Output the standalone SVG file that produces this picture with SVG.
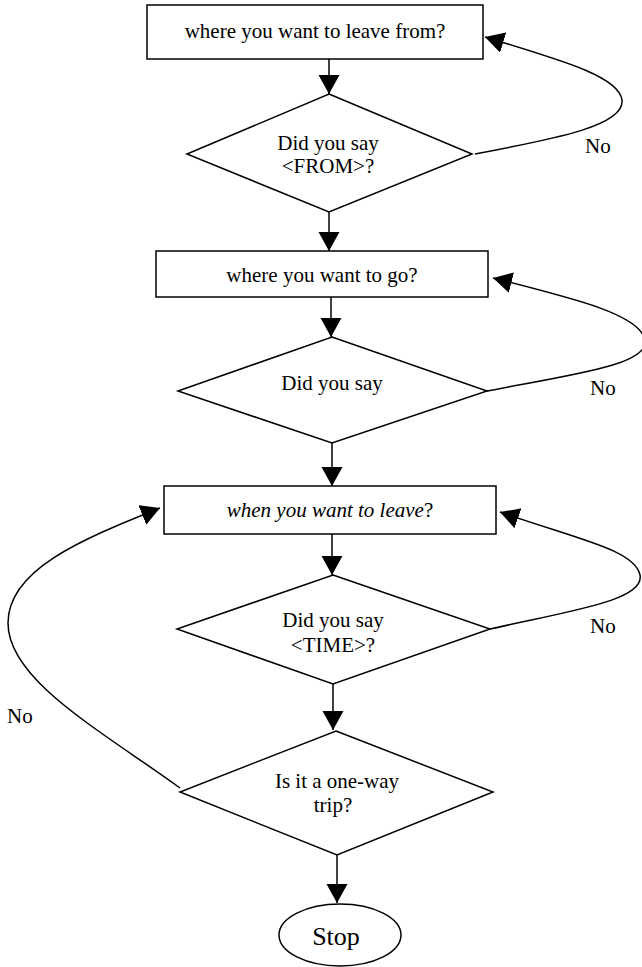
<svg xmlns="http://www.w3.org/2000/svg" width="642" height="967" viewBox="0 0 642 967">
<style>
.shape{fill:#fff;stroke:#000;stroke-width:1.5}
.conn{fill:none;stroke:#000;stroke-width:1.5}
.t{font-family:"Liberation Serif","Times New Roman",serif;font-size:21px;fill:#000;text-anchor:middle}
.l{font-family:"Liberation Serif","Times New Roman",serif;font-size:21px;fill:#000}
</style>
<defs>
<marker id="ah" markerUnits="userSpaceOnUse" markerWidth="20" markerHeight="22" refX="19" refY="10.5" orient="auto">
<path d="M0,0 L19,10.5 L0,21 z" fill="#000"/>
</marker>
</defs>
<rect width="642" height="967" fill="#fff"/>
<g id="connectors">
<line class="conn" x1="329" y1="59" x2="329" y2="94" marker-end="url(#ah)"/>
<line class="conn" x1="329" y1="212" x2="329" y2="251" marker-end="url(#ah)"/>
<line class="conn" x1="331" y1="297" x2="331" y2="337" marker-end="url(#ah)"/>
<line class="conn" x1="332" y1="443" x2="332" y2="486" marker-end="url(#ah)"/>
<line class="conn" x1="332" y1="534" x2="332" y2="575" marker-end="url(#ah)"/>
<line class="conn" x1="333" y1="684" x2="333" y2="730" marker-end="url(#ah)"/>
<line class="conn" x1="337" y1="855" x2="337" y2="903" marker-end="url(#ah)"/>
<path class="conn" d="M475,154 C560,138 625,125 622,100 C619,76 560,60 485,37" marker-end="url(#ah)"/>
<path class="conn" d="M487,391 C570,375 650,365 645,340 C640,315 580,300 493,278" marker-end="url(#ah)"/>
<path class="conn" d="M490,629 C575,610 645,600 640,575 C635,550 580,540 500,512" marker-end="url(#ah)"/>
<path class="conn" d="M180,788 C100,730 8,680 8,623 C8,570 80,540 160,508" marker-end="url(#ah)"/>
</g>
<g id="box1">
<rect class="shape" x="147" y="5" width="336" height="54"/>
<text class="t" x="315" y="38">where you want to leave from?</text>
</g>
<g id="dec1">
<polygon class="shape" points="329,94 472,154 329,212 187,154"/>
<text class="t" x="328" y="150">Did you say</text>
<text class="t" x="328" y="173">&lt;FROM&gt;?</text>
</g>
<g id="box2">
<rect class="shape" x="156" y="251" width="332" height="46"/>
<text class="t" x="322" y="282">where you want to go?</text>
</g>
<g id="dec2">
<polygon class="shape" points="332,337 487,391 332,443 178,391"/>
<text class="t" x="332" y="390">Did you say</text>
</g>
<g id="box3">
<rect class="shape" x="164" y="486" width="332" height="48"/>
<text class="t" x="330" y="517"><tspan font-style="italic">when you want to leave</tspan>?</text>
</g>
<g id="dec3">
<polygon class="shape" points="333,575 490,629 333,684 177,629"/>
<text class="t" x="333" y="627">Did you say</text>
<text class="t" x="333" y="652">&lt;TIME&gt;?</text>
</g>
<g id="dec4">
<polygon class="shape" points="336,731 493,792 337,855 180,792"/>
<text class="t" x="337" y="788">Is it a one-way</text>
<text class="t" x="333" y="812">trip?</text>
</g>
<g id="stop">
<ellipse class="shape" cx="340" cy="935" rx="61" ry="31"/>
<text class="t" x="336" y="945" style="font-size:26px">Stop</text>
</g>
<g id="labels">
<text class="l" x="585" y="153">No</text>
<text class="l" x="590" y="395">No</text>
<text class="l" x="590" y="633">No</text>
<text class="l" x="7" y="723">No</text>
</g>
</svg>
